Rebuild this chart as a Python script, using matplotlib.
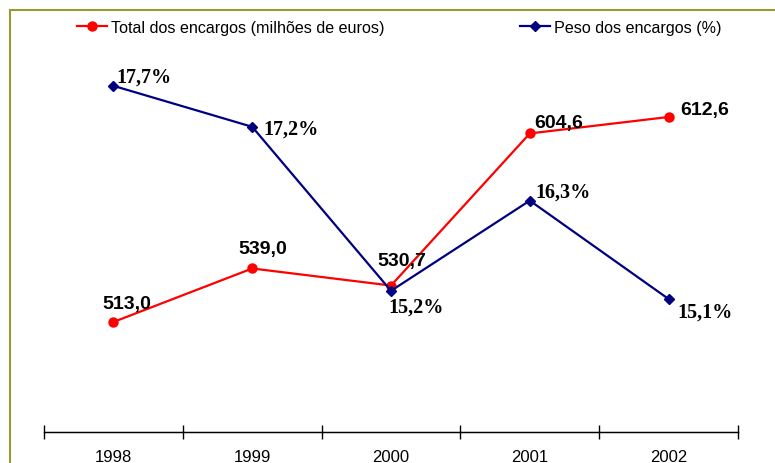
import matplotlib
matplotlib.use('Agg')
import matplotlib.pyplot as plt
from matplotlib.lines import Line2D
from matplotlib.patches import Rectangle

""" DATA """
years = ['1998', '1999', '2000', '2001', '2002']
total = [513.0, 539.0, 530.7, 604.6, 612.6]
peso = [17.7, 17.2, 15.2, 16.3, 15.1]

# label offsets in pixels (dx, dy), text is left-aligned / centred vertically
total_off = [(-11, 18), (-14, 20), (-14, 25), (4, 11), (12, 7)]
peso_off = [(3, 9), (11, -2), (-3, -16), (6, 9), (9, -13)]

RED = '#ff0000'
BLUE = '#000080'

fig = plt.figure(figsize=(7.75, 4.64), dpi=100)
W, H = 775, 464
fig.patches.append(Rectangle((10 / W, -0.1), 1.2, 1 - 11 / H + 0.1, transform=fig.transFigure,
                             fill=False, edgecolor='#999933', linewidth=1.5))

ax = fig.add_axes([44 / W, (H - 433) / H, (738 - 44) / W, (433 - 20) / H])
ax2 = ax.twinx()
x = list(range(len(years)))

ax.plot(x, total, color=RED, lw=1.6, marker='o', ms=6.5, zorder=3)
ax2.plot(x, peso, color=BLUE, lw=1.6, marker='D', ms=5.5, zorder=3)

ax.set_ylim(459.55, 660.2)
ax2.set_ylim(13.478, 18.515)
ax.set_xlim(-0.5, len(years) - 0.5)

for i, v in enumerate(total):
    dx, dy = total_off[i]
    ax.annotate(f'{v:.1f}'.replace('.', ','), (x[i], v), xytext=(dx, dy), textcoords='offset pixels',
                ha='left', va='center', fontsize=14, fontweight='bold', family='Liberation Sans')
for i, v in enumerate(peso):
    dx, dy = peso_off[i]
    ax2.annotate(f'{v:.1f}%'.replace('.', ','), (x[i], v), xytext=(dx, dy), textcoords='offset pixels',
                 ha='left', va='center', fontsize=14.5, fontweight='bold', family='Liberation Serif')

for a in (ax, ax2):
    for s in ('left', 'right', 'top'):
        a.spines[s].set_visible(False)
    a.patch.set_visible(False)
ax2.set_yticks([])
ax.set_yticks([])
ax.spines['bottom'].set_linewidth(1.0)

ax.set_xticks([i - 0.5 for i in range(len(years) + 1)])
ax.set_xticklabels([])
ax.tick_params(axis='x', which='major', direction='inout', length=10, width=1.0)
ax.set_xticks(x, minor=True)
ax.set_xticklabels(years, minor=True, fontsize=12, family='Liberation Sans')
ax.tick_params(axis='x', which='minor', length=0, pad=12)

handles = [Line2D([], [], color=RED, lw=1.6, marker='o', ms=6.5),
           Line2D([], [], color=BLUE, lw=1.6, marker='D', ms=5.5)]
fig.legend(handles, ['Total dos encargos (milhões de euros)', 'Peso dos encargos (%)'],
           loc='center left', bbox_to_anchor=(77 / W, 1 - 28 / H), ncol=2, frameon=False,
           prop={'family': 'Liberation Sans', 'size': 11.6}, handlelength=1.86,
           handletextpad=0.25, columnspacing=8.4, borderaxespad=0, borderpad=0)

fig.savefig('out.png', dpi=100)
